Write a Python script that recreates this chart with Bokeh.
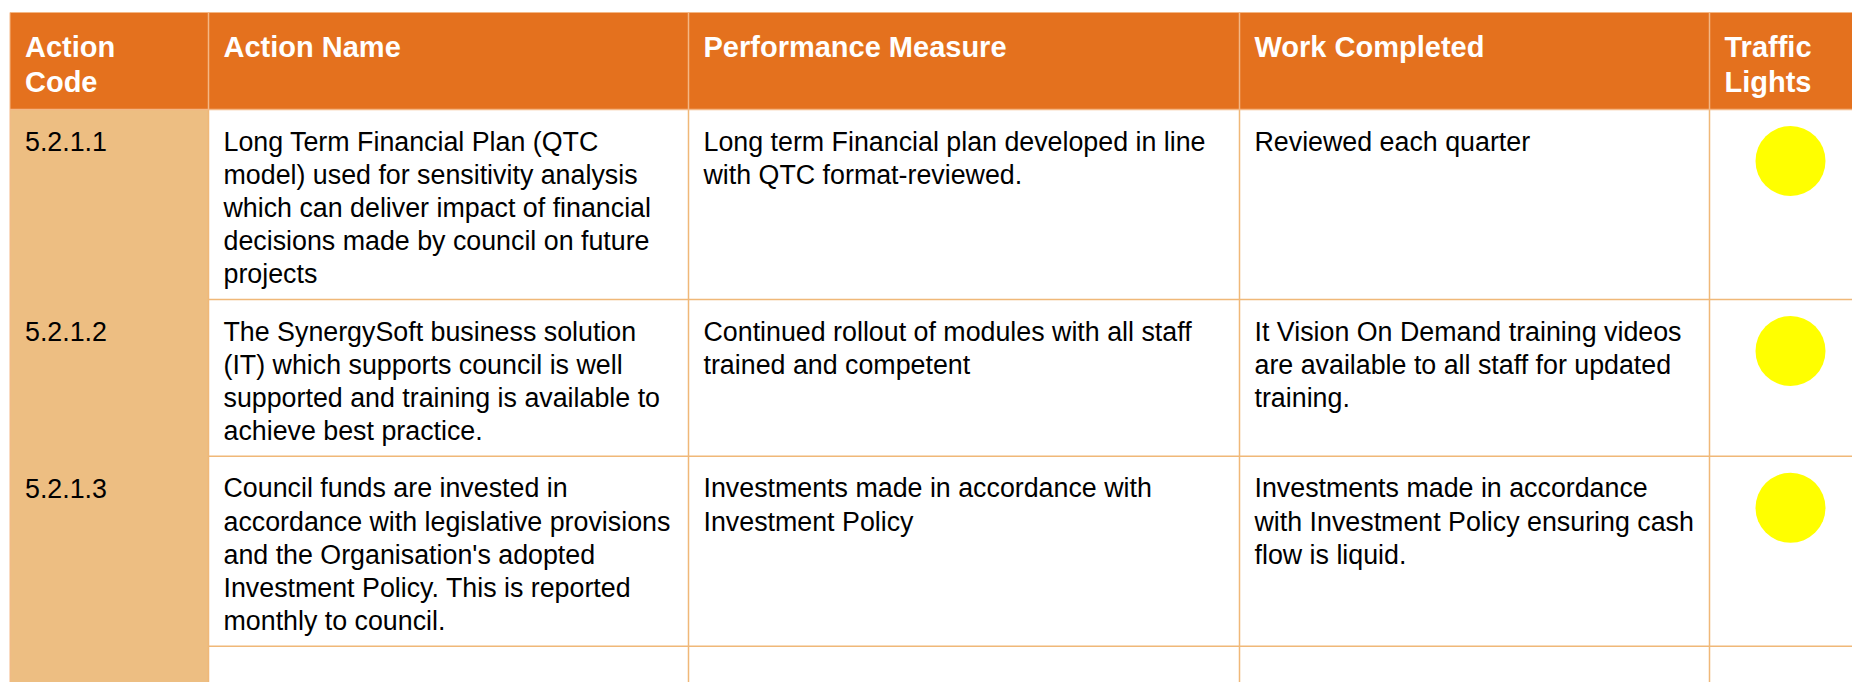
from bokeh.plotting import figure
from bokeh.models import Range1d, ColumnDataSource
from bokeh.core.properties import value
from bokeh.embed import file_html
from bokeh.resources import INLINE

# ---------------- data ----------------
headers = ["Action\nCode", "Action Name", "Performance Measure", "Work Completed", "Traffic\nLights"]
codes = ["5.2.1.1", "5.2.1.2", "5.2.1.3", ""]
action_names = [
    "Long Term Financial Plan (QTC\nmodel) used for sensitivity analysis\nwhich can deliver impact of financial\ndecisions made by council on future\nprojects",
    "The SynergySoft  business solution\n(IT) which supports council is well\nsupported and training is available to\nachieve best practice.",
    "Council funds are invested in\naccordance with legislative provisions\nand the Organisation's adopted\nInvestment Policy. This is reported\nmonthly to council.",
    "",
]
performance_measures = [
    "Long term Financial plan developed in line\nwith QTC format-reviewed.",
    "Continued rollout of modules with all staff\ntrained and competent",
    "Investments made in accordance with\nInvestment Policy",
    "",
]
work_completed = [
    "Reviewed each quarter",
    "It Vision On Demand training videos\nare available to all staff for updated\ntraining.",
    "Investments made in accordance\nwith Investment Policy ensuring cash\nflow is liquid.",
    "",
]
traffic_lights = ["#FFFF00", "#FFFF00", "#FFFF00", None]

# ---------------- layout / style ----------------
W, H = 1852, 682
X0, Y0 = 0, 0
col_edges = [9.5, 208, 688, 1239, 1709, 1880]
header_top, header_bottom = 12, 109
pad_x = 15
body_font, body_lh = 26.8, 33.2
head_font, head_lh = 29, 35.5
text_shift = -9  # renderer baseline correction
FONT = "Liberation Sans"
ORANGE = "#E4711E"
TAN = "#EDBE82"
GRID = "#F0B878"
HEAD_DIV = "#F4B785"

p = figure(width=W, height=H, output_backend="svg", toolbar_location=None,
           x_range=Range1d(X0, X0 + W), y_range=Range1d(Y0 + H, Y0),
           min_border=0, x_axis_type=None, y_axis_type=None,
           background_fill_color="white", border_fill_color="white")
p.grid.visible = False
p.outline_line_color = None

# row boundaries from content
columns = [codes, action_names, performance_measures, work_completed]
row_tops = [header_bottom]
for i in range(len(codes)):
    n = max(len(c[i].split("\n")) if c[i] else 0 for c in columns)
    h = n * body_lh + 24 if n else 120
    row_tops.append(row_tops[-1] + h)
bottom = row_tops[-1]
right = col_edges[-1]

# backgrounds
p.quad(left=[col_edges[0]], right=[right], top=[header_top], bottom=[header_bottom],
       fill_color=ORANGE, line_color=None)
p.quad(left=[col_edges[0]], right=[col_edges[1]], top=[header_bottom], bottom=[bottom],
       fill_color=TAN, line_color=None)

# grid lines
vx = col_edges[1:-1]
p.segment(x0=vx, x1=vx, y0=[header_bottom] * len(vx), y1=[bottom] * len(vx),
          line_color=GRID, line_width=1.5)
p.segment(x0=vx, x1=vx, y0=[header_top] * len(vx), y1=[header_bottom] * len(vx),
          line_color=HEAD_DIV, line_width=1.5)
hy = row_tops[1:-1]
p.segment(x0=[col_edges[1]] * len(hy), x1=[right] * len(hy), y0=hy, y1=hy,
          line_color=GRID, line_width=1.5)
p.segment(x0=[col_edges[0]], x1=[right], y0=[header_bottom], y1=[header_bottom],
          line_color=HEAD_DIV, line_width=1.5)
p.segment(x0=[col_edges[0]], x1=[right], y0=[header_top], y1=[header_top],
          line_color=HEAD_DIV, line_width=1)
p.segment(x0=[col_edges[0]], x1=[col_edges[0]], y0=[header_top], y1=[bottom],
          line_color=HEAD_DIV, line_width=1)

# header texts
hx, hyy, ht = [], [], []
for j, htxt in enumerate(headers):
    for k, line in enumerate(htxt.split("\n")):
        hx.append(col_edges[j] + pad_x)
        hyy.append(header_top + 43 + k * head_lh + text_shift)
        ht.append(line)
p.text(x="x", y="y", text="t", source=ColumnDataSource(dict(x=hx, y=hyy, t=ht)),
       text_font=value(FONT), text_font_style="bold", text_font_size=f"{head_font}px",
       text_color="white", text_baseline="alphabetic", text_align="left")

# body texts
bx, by, bt = [], [], []
for j, col in enumerate(columns):
    for i, cell in enumerate(col):
        if not cell:
            continue
        for k, line in enumerate(cell.split("\n")):
            bx.append(col_edges[j] + pad_x)
            by.append(row_tops[i] + 41 + k * body_lh + text_shift)
            bt.append(line)
p.text(x="x", y="y", text="t", source=ColumnDataSource(dict(x=bx, y=by, t=bt)),
       text_font=value(FONT), text_font_size=f"{body_font}px",
       text_color="#000000", text_baseline="alphabetic", text_align="left")

# traffic lights
cx, cy, cc = [], [], []
for i, c in enumerate(traffic_lights):
    if c:
        cx.append(col_edges[4] + 81)
        cy.append(row_tops[i] + 51.5)
        cc.append(c)
p.circle(x="x", y="y", radius=35, source=ColumnDataSource(dict(x=cx, y=cy, c=cc)),
         fill_color="c", line_color=None)

open("out.html", "w").write(file_html(p, INLINE))
